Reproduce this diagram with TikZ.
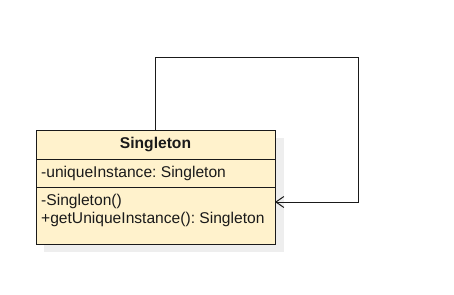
\documentclass[tikz,border=0pt]{standalone}
\usepackage{fontspec}
\setmainfont{Liberation Sans}
\frenchspacing
\usetikzlibrary{arrows.meta, positioning}
\definecolor{umlFill}{HTML}{FFF2CC}
\definecolor{umlShadow}{HTML}{EEEEEE}
\definecolor{umlLine}{HTML}{1A1A1A}
\tikzset{
    umlPart/.style={rectangle, draw=umlLine, fill=umlFill, line width=1pt, minimum width=239pt, inner sep=0pt, outer sep=0pt, anchor=north west},
    umlText/.style={inner sep=0pt, text=umlLine, font=\fontsize{15.6}{18}\selectfont},
    umlShade/.style={fill=umlShadow, draw=none},
    selfLink/.style={-{Straight Barb[length=8pt, width=11pt]}, draw=umlLine, line width=1pt},
}

\begin{document}
\begin{tikzpicture}[x=1pt, y=-1pt]
    \useasboundingbox (0,0) rectangle (454,294);

    % shadow under the class box
    \fill[umlShade] (44,138) rectangle (284,252);

    % class compartments
    \node[umlPart, minimum height=29pt] (head) at (36,130) {};
    \node[umlPart, minimum height=28pt] (attrs) at (head.south west) {};
    \node[umlPart, minimum height=57pt] (meths) at (attrs.south west) {};

    % compartment texts
    \node[umlText, font=\fontsize{15.6}{18}\selectfont\bfseries] (title) at (head.center) {Singleton};
    \node[umlText, anchor=west] (field) at ([xshift=5pt]attrs.west) {-uniqueInstance: Singleton};
    \node[umlText, anchor=north west, align=left] (ops) at ([xshift=5pt, yshift=-7pt]meths.north west)
        {-Singleton()\\+getUniqueInstance(): Singleton};

    % self association
    \coordinate (loopTop) at (358,58);
    \coordinate (hit) at (meths.east |- 0,202);
    \draw[selfLink] (head.north) |- (loopTop) |- (hit);

\end{tikzpicture}
\end{document}
